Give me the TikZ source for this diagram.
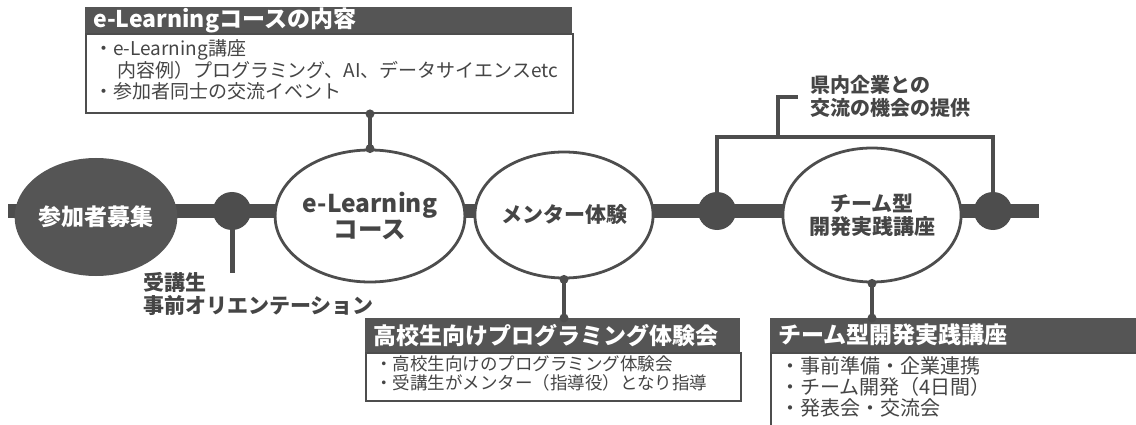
\documentclass[tikz,border=0pt]{standalone}
\usepackage{fontspec}
\setmainfont{Noto Sans CJK JP}
\usetikzlibrary{shapes.geometric}
\definecolor{dk}{HTML}{555555}
\definecolor{ln}{HTML}{4D4D4D}
\definecolor{tx}{HTML}{454545}
\begin{document}
\begin{tikzpicture}[x=1pt,y=-1pt,
  stage/.style={ellipse, draw=ln, line width=2.8pt, fill=white, inner sep=0pt, text=tx, align=center,
    font=\bfseries\fontsize{22}{25}\selectfont},
  dotnode/.style={circle, fill=ln, minimum size=38pt, inner sep=0pt},
  hdr/.style={fill=dk, text=white, anchor=north west, inner xsep=8pt, inner ysep=0pt, align=left,
    font=\bfseries\fontsize{23}{25}\selectfont},
  bodybox/.style={draw=ln, line width=1.5pt, fill=white, anchor=north west, inner sep=0pt},
  bodytext/.style={text=tx, anchor=north west, inner sep=0pt, align=left},
  conn/.style={draw=ln, line width=4pt},
  brk/.style={draw=ln, line width=4pt},
  lbl/.style={text=tx, inner sep=0pt, align=left, font=\bfseries\fontsize{20}{23}\selectfont}]
\useasboundingbox (0,0) rectangle (1136,425);
\fill[white] (0,0) rectangle (1136,425);

% main line
\coordinate (ls) at (8,211);
\coordinate (le) at (1039,211);
\draw[ln, line width=14pt] (ls) -- (le);

% dots (positions)
\coordinate (p3) at (717,211);
\coordinate (p4) at (993,211);

% bracket
\coordinate (b3) at (717,137);
\coordinate (b4) at (993,137);
\draw[brk] (p3) -- (b3) -- (b4) -- (p4);
\coordinate (lb) at (778,137);
\coordinate (lt) at (778,97);
\coordinate (lr) at (798,97);
\draw[brk] (lb) -- (lt) -- (lr);
\node[lbl, anchor=west] (kl) at (810,96) {県内企業との\\交流の機会の提供};

% stages
\node[ellipse, fill=dk, minimum width=148pt, minimum height=118pt, inner sep=0pt, text=white,
  font=\bfseries\fontsize{23}{25}\selectfont] (s0) at (96,217) {参加者募集};
\node[dotnode] (d1) at (232,211) {};
\coordinate (d1e) at (232,273);
\draw[ln, line width=5pt] (d1.center) -- (d1e);
\node[lbl, anchor=north west, font=\bfseries\fontsize{21}{23}\selectfont] (ori) at (143,272) {受講生\\事前オリエンテーション};

\node[stage, minimum width=145pt, minimum height=132pt, font=\bfseries\fontsize{24.5}{26}\selectfont] (s1) at (370,216) {e-Learning\\コース};
\node[stage, minimum width=152pt, minimum height=126pt, font=\bfseries\fontsize{21}{24}\selectfont] (s2) at (564,215) {メンター体験};
\node[dotnode] (d3) at (p3) {};
\node[stage, minimum width=152pt, minimum height=134pt, font=\bfseries\fontsize{21}{23}\selectfont] (s3) at (872,215) {チーム型\\開発実践講座};
\node[dotnode] (d4) at (p4) {};

% top box
\node[hdr, text width=471pt, minimum height=26pt] (h1) at (85,7) {e-Learningコースの内容};
\node[bodybox, minimum width=487pt, minimum height=79pt] (bb1) at (h1.south west) {};
\node[bodytext, font=\fontsize{19}{21}\selectfont] (bt1) at (94,39) {・e-Learning講座\\\hspace*{1.2em}内容例）プログラミング、AI、データサイエンスetc\\・参加者同士の交流イベント};
\coordinate (c1) at (s1.north |- bb1.south);
\draw[conn] (c1) -- (s1.north);
\fill[ln] (c1) circle (4.5);
\fill[ln] (s1.north) circle (4.5);

% middle box
\node[hdr, text width=359pt, minimum height=34pt] (h2) at (365,318) {高校生向けプログラミング体験会};
\node[bodybox, minimum width=375pt, minimum height=48pt] (bb2) at (h2.south west) {};
\node[bodytext, font=\fontsize{17.5}{19}\selectfont] (bt2) at (375,356) {・高校生向けのプログラミング体験会\\・受講生がメンター（指導役）となり指導};
\coordinate (c2) at (s2.south |- h2.north);
\draw[conn] (s2.south) -- (c2);
\fill[ln] (c2) circle (4.5);
\fill[ln] (s2.south) circle (4.5);

% right box
\node[hdr, text width=380pt, minimum height=34pt] (h3) at (770,318) {チーム型開発実践講座};
\node[bodybox, minimum width=400pt, minimum height=100pt] (bb3) at (h3.south west) {};
\node[bodytext, font=\fontsize{20}{21}\selectfont] (bt3) at (780,356) {・事前準備・企業連携\\・チーム開発（4日間）\\・発表会・交流会};
\coordinate (c3) at (s3.south |- h3.north);
\draw[conn] (s3.south) -- (c3);
\fill[ln] (c3) circle (4.5);
\fill[ln] (s3.south) circle (4.5);
\end{tikzpicture}
\end{document}
